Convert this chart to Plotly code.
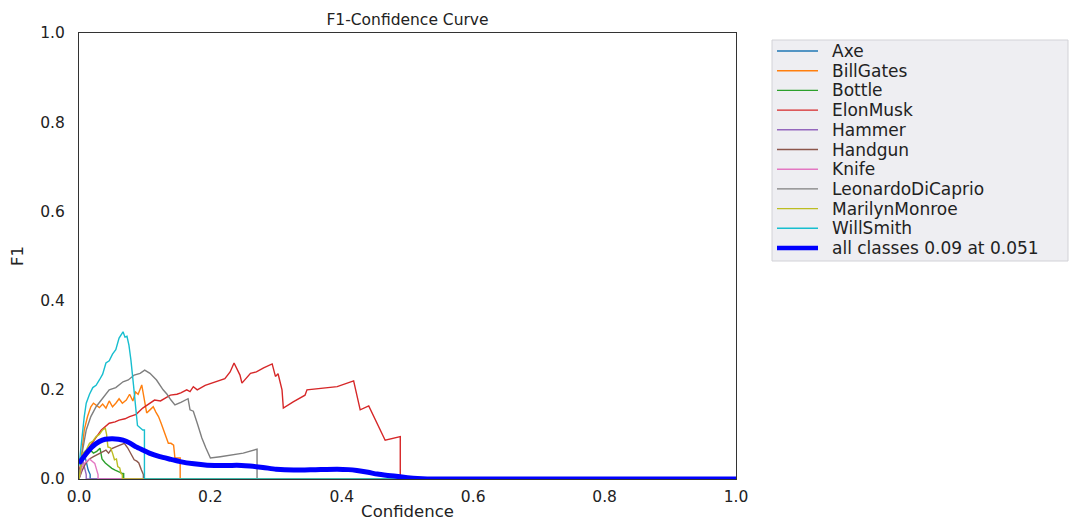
import plotly.graph_objects as go

# ---- data ----
class_names = ["Axe", "BillGates", "Bottle", "ElonMusk", "Hammer", "Handgun",
               "Knife", "LeonardoDiCaprio", "MarilynMonroe", "WillSmith"]
class_colors = ["#1f77b4", "#ff7f0e", "#2ca02c", "#d62728", "#9467bd",
                "#8c564b", "#e377c2", "#7f7f7f", "#bcbd22", "#17becf"]

axe_x = [0, 0.003, 0.006, 0.010, 0.014, 0.017, 0.017, 1.0]
axe_y = [0, 0.03, 0.05, 0.045, 0.02, 0.01, 0, 0]

billgates_x = [0, 0.004, 0.008, 0.013, 0.018, 0.022, 0.026, 0.031, 0.036, 0.041, 0.046,
               0.051, 0.056, 0.061, 0.066, 0.072, 0.077, 0.082, 0.086, 0.090, 0.0955,
               0.098, 0.100, 0.103, 0.108, 0.113, 0.117, 0.121, 0.125, 0.129, 0.133,
               0.136, 0.140, 0.144, 0.146, 0.150, 0.154, 0.154, 1.0]
billgates_y = [0, 0.05, 0.11, 0.14, 0.162, 0.17, 0.166, 0.16, 0.168, 0.159, 0.175,
               0.162, 0.17, 0.18, 0.17, 0.177, 0.19, 0.175, 0.195, 0.19, 0.211,
               0.19, 0.177, 0.148, 0.155, 0.162, 0.15, 0.14, 0.125, 0.11, 0.095,
               0.08, 0.08, 0.076, 0.047, 0.047, 0.047, 0, 0]

bottle_x = [0, 0.005, 0.010, 0.017, 0.022, 0.027, 0.032, 0.035, 0.040, 0.046, 0.050,
            0.055, 0.060, 0.065, 0.068, 0.068, 1.0]
bottle_y = [0, 0.04, 0.055, 0.065, 0.058, 0.062, 0.069, 0.045, 0.036, 0.028, 0.024,
            0.02, 0.016, 0.013, 0.012, 0, 0]

elonmusk_x = [0, 0.008, 0.016, 0.025, 0.034, 0.046, 0.055, 0.061, 0.070, 0.077, 0.087,
              0.097, 0.108, 0.115, 0.124, 0.139, 0.149, 0.155, 0.164, 0.169, 0.174,
              0.180, 0.192, 0.210, 0.222, 0.230, 0.236, 0.245, 0.248, 0.261, 0.270,
              0.281, 0.294, 0.299, 0.303, 0.309, 0.311, 0.326, 0.344, 0.347, 0.393,
              0.418, 0.428, 0.441, 0.466, 0.489, 0.489, 1.0]
elonmusk_y = [0.02, 0.05, 0.072, 0.09, 0.11, 0.125, 0.128, 0.132, 0.135, 0.14, 0.145,
              0.159, 0.17, 0.177, 0.175, 0.188, 0.19, 0.193, 0.2, 0.196, 0.207,
              0.2, 0.21, 0.218, 0.225, 0.24, 0.26, 0.233, 0.215, 0.237, 0.24,
              0.249, 0.258, 0.23, 0.236, 0.2, 0.159, 0.173, 0.188, 0.2, 0.207,
              0.22, 0.155, 0.164, 0.087, 0.095, 0, 0]

hammer_x = [0, 0.003, 0.006, 0.009, 0.011, 0.011, 1.0]
hammer_y = [0, 0.03, 0.04, 0.025, 0.01, 0, 0]

handgun_x = [0, 0.005, 0.010, 0.016, 0.022, 0.028, 0.035, 0.041, 0.045, 0.050, 0.056,
             0.062, 0.069, 0.074, 0.079, 0.084, 0.088, 0.091, 0.095, 0.098, 0.098, 1.0]
handgun_y = [0, 0.02, 0.035, 0.045, 0.05, 0.055, 0.06, 0.065, 0.058, 0.068, 0.072,
             0.076, 0.08, 0.07, 0.058, 0.043, 0.04, 0.036, 0.02, 0.01, 0, 0]

knife_x = [0, 0.004, 0.008, 0.012, 0.016, 0.020, 0.024, 0.027, 0.029, 0.029, 1.0]
knife_y = [0, 0.025, 0.035, 0.04, 0.045, 0.04, 0.035, 0.02, 0.01, 0, 0]

leonardo_x = [0, 0.005, 0.011, 0.018, 0.026, 0.036, 0.046, 0.056, 0.067, 0.075, 0.084,
              0.093, 0.100, 0.108, 0.118, 0.128, 0.134, 0.140, 0.146, 0.155, 0.162,
              0.166, 0.169, 0.174, 0.180, 0.187, 0.193, 0.200, 0.215, 0.230, 0.250,
              0.271, 0.271, 1.0]
leonardo_y = [0, 0.06, 0.11, 0.14, 0.162, 0.18, 0.2, 0.205, 0.218, 0.222, 0.233,
              0.237, 0.244, 0.237, 0.222, 0.2, 0.19, 0.177, 0.166, 0.172, 0.177,
              0.18, 0.155, 0.152, 0.125, 0.092, 0.07, 0.047, 0.05, 0.054, 0.058,
              0.067, 0, 0]

marilyn_x = [0, 0.006, 0.011, 0.016, 0.021, 0.026, 0.031, 0.036, 0.040, 0.042, 0.044,
             0.048, 0.051, 0.054, 0.057, 0.059, 0.062, 0.064, 0.066, 0.066, 1.0]
marilyn_y = [0, 0.058, 0.065, 0.08, 0.085, 0.095, 0.1, 0.11, 0.114, 0.1, 0.072,
             0.07, 0.058, 0.043, 0.045, 0.028, 0.025, 0.012, 0.01, 0, 0]

willsmith_x = [0, 0.004, 0.008, 0.011, 0.016, 0.021, 0.026, 0.031, 0.036, 0.041, 0.046,
               0.051, 0.056, 0.061, 0.067, 0.070, 0.073, 0.076, 0.079, 0.083, 0.086,
               0.089, 0.093, 0.097, 0.0996, 0.0996, 1.0]
willsmith_y = [0.03, 0.09, 0.14, 0.17, 0.19, 0.205, 0.21, 0.222, 0.235, 0.26, 0.265,
               0.28, 0.29, 0.316, 0.33, 0.318, 0.32, 0.30, 0.267, 0.21, 0.17,
               0.12, 0.115, 0.11, 0.11, 0, 0]

all_x = [0, 0.010, 0.020, 0.031, 0.040, 0.051, 0.060, 0.067, 0.077, 0.087, 0.097, 0.107,
         0.123, 0.140, 0.154, 0.175, 0.195, 0.220, 0.240, 0.260, 0.280, 0.300, 0.327,
         0.360, 0.393, 0.410, 0.423, 0.440, 0.454, 0.470, 0.489, 0.500, 0.515, 0.530, 1.0]
all_y = [0.035, 0.055, 0.072, 0.084, 0.089, 0.09, 0.089, 0.087, 0.081, 0.072, 0.065, 0.058,
         0.05, 0.044, 0.039, 0.034, 0.031, 0.03, 0.031, 0.029, 0.026, 0.022, 0.02,
         0.021, 0.022, 0.021, 0.019, 0.015, 0.011, 0.008, 0.005, 0.003, 0.001, 0, 0]
all_label = "all classes 0.09 at 0.051"
all_color = "#0000ff"

tick_vals = [0.0, 0.2, 0.4, 0.6, 0.8, 1.0]
tick_text = ["0.0", "0.2", "0.4", "0.6", "0.8", "1.0"]

series_x = [axe_x, billgates_x, bottle_x, elonmusk_x, hammer_x, handgun_x,
            knife_x, leonardo_x, marilyn_x, willsmith_x]
series_y = [axe_y, billgates_y, bottle_y, elonmusk_y, hammer_y, handgun_y,
            knife_y, leonardo_y, marilyn_y, willsmith_y]

# ---- layout geometry (pixels) ----
W, H = 1090, 526
PL, PR, PT, PB = 79, 736, 33, 479          # plot area edges
FONT = "DejaVu Sans"
TXT = "#222222"


def px2paper_x(px):
    return (px - PL) / (PR - PL)


def px2paper_y(py):
    return (PB - py) / (PB - PT)


fig = go.Figure()
for name, color, xs, ys in zip(class_names, class_colors, series_x, series_y):
    fig.add_trace(go.Scatter(x=xs, y=ys, mode="lines", name=name,
                             line=dict(color=color, width=1.4)))
fig.add_trace(go.Scatter(x=all_x, y=all_y, mode="lines", name=all_label,
                         line=dict(color=all_color, width=5, shape="spline", smoothing=0.6)))

axis_common = dict(range=[0, 1], tickvals=tick_vals, ticktext=tick_text,
                   showgrid=False, zeroline=False, showline=True, mirror=True,
                   linecolor="#333333", linewidth=1.2, ticks="",
                   tickfont=dict(family=FONT, size=15.5, color=TXT))

# ---- hand-built legend box (matches the reference's proportions) ----
shapes = [dict(type="rect", xref="paper", yref="paper",
               x0=px2paper_x(772), x1=px2paper_x(1068),
               y0=px2paper_y(261), y1=px2paper_y(40),
               fillcolor="#eeeef2", line=dict(color="#d2d2d7", width=1), layer="above")]
annotations = []
legend_names = class_names + [all_label]
legend_colors = class_colors + [all_color]
for i, (nm, col) in enumerate(zip(legend_names, legend_colors)):
    yc = 51 + 19.7 * i
    shapes.append(dict(type="line", xref="paper", yref="paper",
                       x0=px2paper_x(777), x1=px2paper_x(818),
                       y0=px2paper_y(yc), y1=px2paper_y(yc),
                       line=dict(color=col, width=4.5 if nm == all_label else 1.4),
                       layer="above"))
    annotations.append(dict(xref="paper", yref="paper", x=px2paper_x(830), y=px2paper_y(yc),
                            xanchor="left", yanchor="middle", showarrow=False, text=nm,
                            font=dict(family=FONT, size=17, color=TXT)))

fig.update_layout(
    width=W, height=H,
    margin=dict(l=PL, r=W - PR, t=PT, b=H - PB, autoexpand=False),
    paper_bgcolor="white", plot_bgcolor="white",
    title=dict(text="F1-Confidence Curve", x=(PL + PR) / 2 / W, xanchor="center",
               y=1 - 20 / H, yanchor="middle",
               font=dict(family=FONT, size=15.5, color=TXT)),
    xaxis=dict(axis_common, title=dict(text="Confidence", standoff=0,
                                       font=dict(family=FONT, size=16.5, color=TXT)),
               ticklabelstandoff=3),
    yaxis=dict(axis_common, title=dict(text="F1", standoff=12,
                                       font=dict(family=FONT, size=16.5, color=TXT)),
               ticklabelstandoff=10),
    showlegend=False,
    shapes=shapes,
    annotations=annotations,
)

fig.write_html("out.html")
